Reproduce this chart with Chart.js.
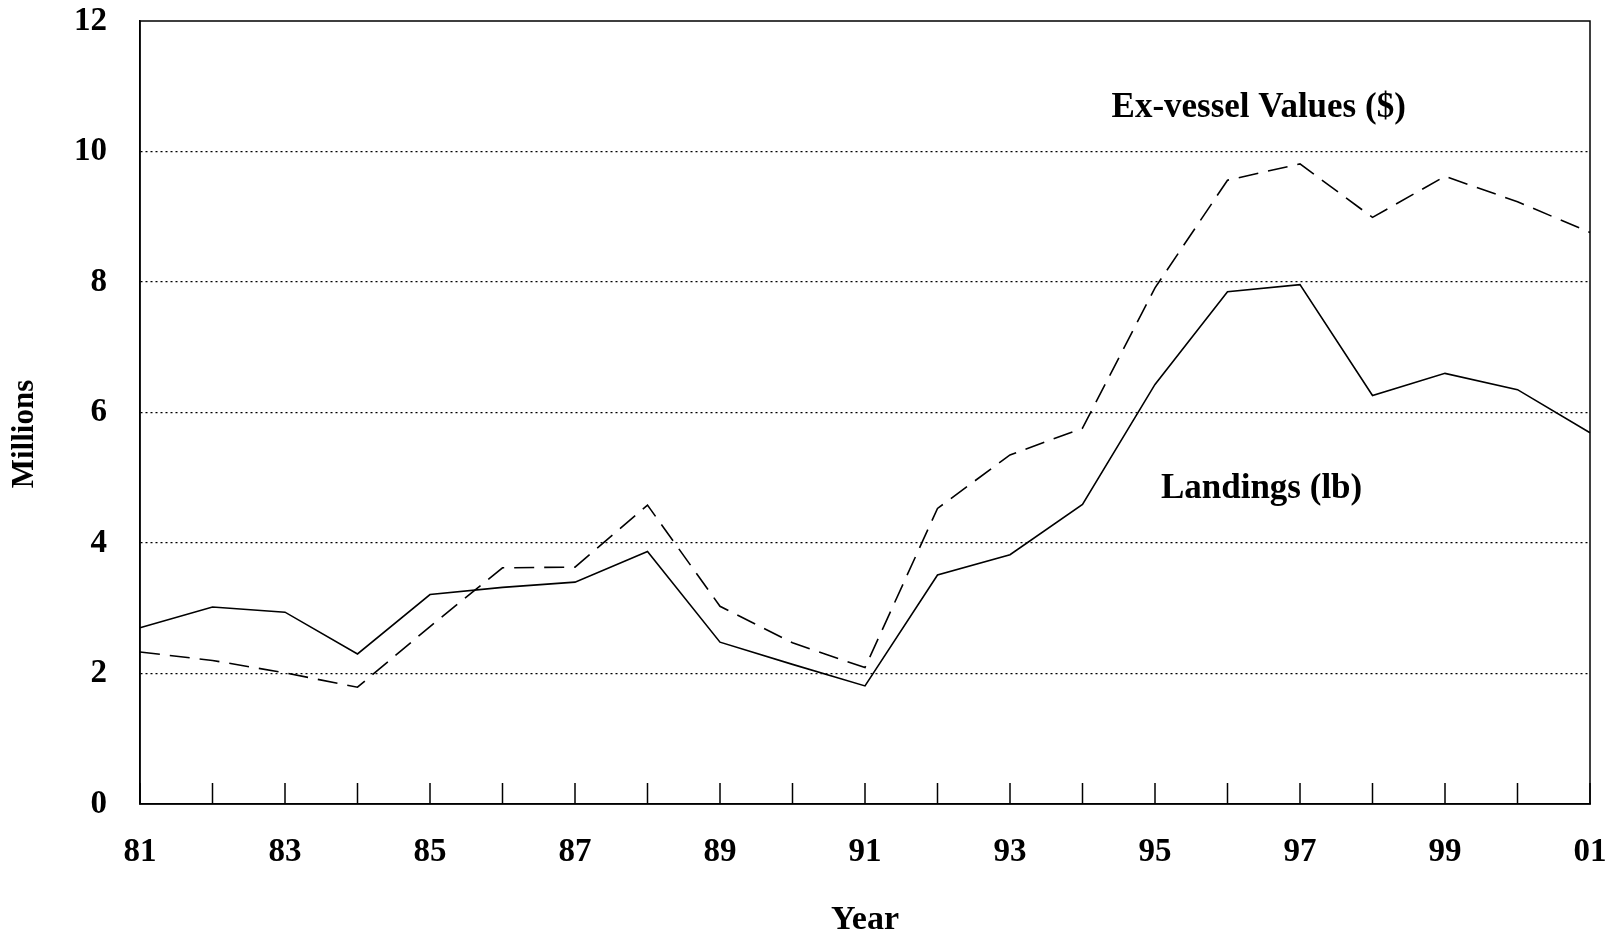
<!DOCTYPE html>
<html>
<head>
<meta charset="utf-8">
<title>Landings and ex-vessel values</title>
<script src="https://cdn.jsdelivr.net/npm/chart.js@4.4.0/dist/chart.umd.min.js"></script>
<style>
    html, body { margin: 0; padding: 0; background: #fff; }
    #wrap { width: 1612px; height: 937px; position: relative; }
</style>
</head>
<body>
<div id="wrap"><canvas id="chart"></canvas></div>
<script>
// years 1981 - 2001
const years = ['81', '82', '83', '84', '85', '86', '87', '88', '89', '90', '91',
               '92', '93', '94', '95', '96', '97', '98', '99', '00', '01'];

// millions of pounds
const landings = [2.70, 3.02, 2.94, 2.30, 3.21, 3.32, 3.40, 3.87, 2.48, 2.14, 1.81,
                  3.51, 3.82, 4.59, 6.43, 7.85, 7.96, 6.26, 6.60, 6.35, 5.69];

// millions of dollars
const exVessel = [2.33, 2.20, 2.01, 1.79, 2.72, 3.62, 3.63, 4.58, 3.03, 2.47, 2.09,
                  4.53, 5.35, 5.76, 7.91, 9.56, 9.81, 8.99, 9.62, 9.23, 8.76];

const yTicks = [0, 2, 4, 6, 8, 10, 12];

// series labels written inside the plot: [text, x index, y value]
const notes = [
    ['Ex-vessel Values ($)', 15.43, 10.67],
    ['Landings (lb)', 15.47, 4.83]
];

const serif = '"Liberation Serif", "Times New Roman", serif';

// box around plot, inside tick marks on the year axis, series labels, y title
const framePlugin = {
    id: 'frame',
    afterDraw(chart) {
        const ctx = chart.ctx;
        const area = chart.chartArea;
        const x = chart.scales.x;
        const y = chart.scales.y;
        ctx.save();
        ctx.strokeStyle = '#000';
        ctx.lineWidth = 1.5;
        ctx.strokeRect(area.left, area.top, area.right - area.left, area.bottom - area.top);

        ctx.beginPath();
        years.forEach((yr, i) => {
            const px = x.getPixelForValue(i);
            ctx.moveTo(px, area.bottom);
            ctx.lineTo(px, area.bottom - 21);
        });
        ctx.stroke();

        ctx.fillStyle = '#000';
        ctx.font = 'bold 35px ' + serif;
        ctx.textAlign = 'center';
        ctx.textBaseline = 'middle';
        notes.forEach(n => {
            ctx.fillText(n[0], x.getPixelForValue(n[1]), y.getPixelForValue(n[2]));
        });

        // axis title sits a little below the middle of the axis
        ctx.translate(25, y.getPixelForValue(5.67));
        ctx.rotate(-Math.PI / 2);
        ctx.font = 'bold 31px ' + serif;
        ctx.fillText('Millions', 0, 0);
        ctx.restore();
    }
};

const ctx = document.getElementById('chart').getContext('2d');
new Chart(ctx, {
    type: 'line',
    data: {
        labels: years,
        datasets: [
            {
                label: 'Landings (lb)',
                data: landings,
                borderColor: '#000',
                borderWidth: 1.6,
                pointRadius: 0,
                tension: 0,
                fill: false
            },
            {
                label: 'Ex-vessel Values ($)',
                data: exVessel,
                borderColor: '#000',
                borderWidth: 1.6,
                borderDash: [20, 10],
                pointRadius: 0,
                tension: 0,
                fill: false
            }
        ]
    },
    options: {
        responsive: true,
        maintainAspectRatio: false,
        animation: false,
        layout: { padding: { top: 21, right: 22, left: 0, bottom: 0 } },
        plugins: {
            legend: { display: false },
            tooltip: { enabled: false }
        },
        scales: {
            x: {
                type: 'category',
                offset: false,
                grid: { display: false, drawTicks: false },
                border: { display: true, color: '#000', width: 1.5 },
                // fixed axis height, and no extra room for the end labels
                afterFit: scale => {
                    scale.height = 133;
                    scale.paddingLeft = 0;
                    scale.paddingRight = 0;
                },
                ticks: {
                    autoSkip: false,
                    maxRotation: 0,
                    padding: 29,
                    color: '#000',
                    font: { family: serif, size: 33, weight: 'bold' },
                    callback: (val, i) => (i % 2 === 0 ? years[i] : '')
                },
                title: {
                    display: true,
                    text: 'Year',
                    color: '#000',
                    font: { family: serif, size: 34, weight: 'bold', lineHeight: 1 },
                    padding: { top: 0, bottom: 0 }
                }
            },
            y: {
                min: 0,
                max: 12,
                afterFit: scale => {
                    scale.width = 140;
                    scale.paddingTop = 0;
                    scale.paddingBottom = 0;
                },
                afterBuildTicks: scale => { scale.ticks = yTicks.map(v => ({ value: v })); },
                grid: {
                    drawTicks: false,
                    lineWidth: 1.2,
                    color: c => (c.tick && (c.tick.value === 0 || c.tick.value === 12) ? 'rgba(0,0,0,0)' : '#000')
                },
                border: { display: true, color: '#000', width: 1.5, dash: [2, 3] },
                ticks: {
                    padding: 33,
                    color: '#000',
                    font: { family: serif, size: 33, weight: 'bold' }
                }
            }
        }
    },
    plugins: [framePlugin]
});
</script>
</body>
</html>
